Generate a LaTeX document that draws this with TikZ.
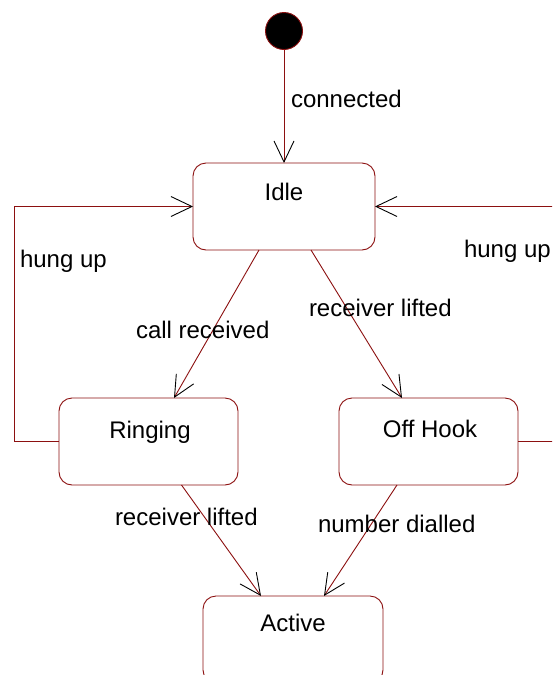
\documentclass[tikz,border=0pt]{standalone}
\usepackage{fontspec}
\setmainfont{Liberation Sans}
\usetikzlibrary{arrows.meta}
\definecolor{umlred}{RGB}{140,16,16}
\begin{document}
\begin{tikzpicture}[x=1pt,y=-1pt,
  every node/.style={inner sep=0pt, outer sep=0pt},
  statebox/.style={draw=umlred, line width=0.9pt, rounded corners=13pt, fill=white},
  lbl/.style={font=\fontsize{24}{28}\selectfont, text=black},
  conn/.style={draw=umlred, line width=0.9pt, -{Straight Barb[black, length=21pt, width=20pt, line width=0.9pt]}}
]
\clip (0,0) rectangle (552,675);
\fill[white] (0,0) rectangle (552,675);

% states
\node[circle, fill=black, draw=umlred, line width=0.9pt, minimum size=37pt] (init) at (284,31) {};
\node[statebox, minimum width=182pt, minimum height=87pt] (idle) at (284,206.5) {};
\node[statebox, minimum width=179pt, minimum height=87pt] (ringing) at (148.5,441.5) {};
\node[statebox, minimum width=179pt, minimum height=87pt] (offhook) at (428.5,441.5) {};
\node[statebox, minimum width=180pt, minimum height=87pt] (active) at (293,639.5) {};

% state names
\node[lbl, anchor=base] (tidle) at (284,200) {Idle};
\node[lbl, anchor=base] (tringing) at (150,438) {Ringing};
\node[lbl, anchor=base] (toffhook) at (430,437) {Off Hook};
\node[lbl, anchor=base] (tactive) at (293,631) {Active};

% helper coordinates
\coordinate (lp) at (14,206.5);
\coordinate (rp) at (565,206.5);

% transitions
\draw[conn] (init.south) -- (idle.north);
\draw[conn] ([xshift=-25pt]idle.south) -- ([xshift=25.5pt]ringing.north);
\draw[conn] ([xshift=27pt]idle.south) -- ([xshift=-26.5pt]offhook.north);
\draw[conn] ([xshift=33pt]ringing.south) -- ([xshift=-32pt]active.north);
\draw[conn] ([xshift=-31.5pt]offhook.south) -- ([xshift=31pt]active.north);
\draw[conn] (ringing.west) -| (lp) -- (idle.west);
\draw[conn] (offhook.east) -| (rp) -- (idle.east);

% transition labels
\node[lbl, anchor=base west] (lconn) at (291,107) {connected};
\node[lbl, anchor=base west] (lhul) at (20,267) {hung up};
\node[lbl, anchor=base west] (lhur) at (464,257) {hung up};
\node[lbl, anchor=base west] (lcall) at (136,338) {call received};
\node[lbl, anchor=base west] (lrl1) at (309,316) {receiver lifted};
\node[lbl, anchor=base west] (lrl2) at (115,525) {receiver lifted};
\node[lbl, anchor=base west] (lnum) at (318,532) {number dialled};
\end{tikzpicture}
\end{document}
